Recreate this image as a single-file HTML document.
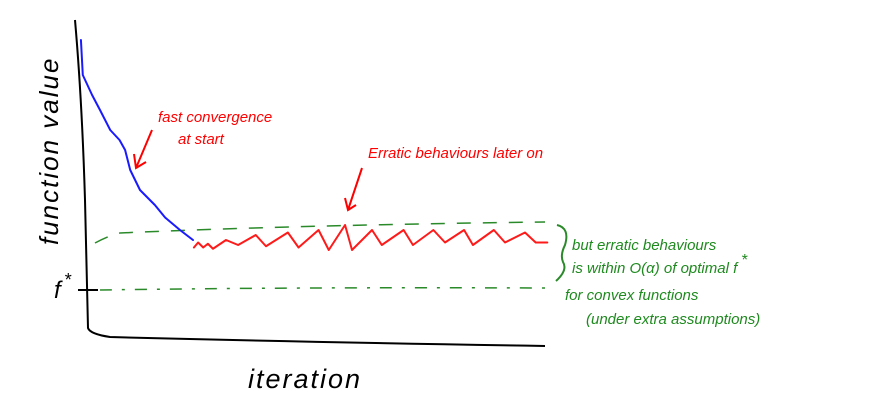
<!DOCTYPE html>
<html><head><meta charset="utf-8"><style>
html,body{margin:0;padding:0;background:#fff;}
svg{display:block;}
text{font-family:"Liberation Sans",sans-serif;font-style:italic;}
</style></head><body>
<svg id="chart" width="871" height="403" viewBox="0 0 871 403" xmlns="http://www.w3.org/2000/svg">
<path d="M75 20 Q82 100 85 200 Q87 290 88 328 Q90 334 110 337 Q300 342 545 346" fill="none" stroke="#000" stroke-width="2"/>
<path d="M78 290 H98" stroke="#000" stroke-width="2"/>
<text x="54" y="298" font-size="24">f</text>
<text x="64" y="286" font-size="18">*</text>
<text font-size="26" transform="translate(58 245) rotate(-90)" letter-spacing="2">function value</text>
<text x="248" y="388" font-size="27" letter-spacing="2">iteration</text>
<path d="M95 243 Q110 235 120 233 Q300 225 545 222" fill="none" stroke="#2a8a2a" stroke-width="1.5" stroke-dasharray="14 12"/>
<path d="M100 290 Q300 287 545 288" fill="none" stroke="#2a8a2a" stroke-width="1.5" stroke-dasharray="12 10 3 10"/>
<g id="series"></g>
<path d="M152 130 L136 168 M134 154 L136 168 L146 162" fill="none" stroke="red" stroke-width="2"/>
<text x="158" y="122" font-size="15" fill="red">fast convergence</text>
<text x="178" y="144" font-size="15" fill="red">at start</text>
<path d="M362 168 L348 210 M345 198 L348 210 L356 205" fill="none" stroke="red" stroke-width="2"/>
<text x="368" y="158" font-size="15" fill="red">Erratic behaviours later on</text>
<path d="M557 225 Q570 228 565 245 Q560 255 563 262 Q568 270 556 281" fill="none" stroke="#2a8a2a" stroke-width="2"/>
<g fill="#1f8a1f" font-size="15">
<text x="572" y="250">but erratic behaviours</text>
<text x="572" y="273">is within O(α) of optimal f</text>
<text x="741" y="265" font-size="16">*</text>
<text x="565" y="300">for convex functions</text>
<text x="586" y="324">(under extra assumptions)</text>
</g>
</svg>
<script>
// iteration 0..100 -> x 80..545 ; function value 0 (f*)..100 -> y 290..40
const blueIter = [0.2,0.6,2.6,4.3,6.5,8.5,9.7,10.8,12.9,16.1,18.3,21.5,24.3];
const blueVal  = [100,86,78,72,64,60,56,48,40,34,29,24,20];
const redIter  = [24.5,25.4,26.5,27.5,28.6,31.4,34,37.8,40,44.7,47,51.3,53.5,57,58.5,62.8,64.9,69.6,71.6,76,78.5,82.6,84.5,89,91.4,95.7,98,100.5];
const redVal   = [17,19,17,18.5,16.5,20,18,22,17.5,23,17,24,16,26,16,24,18,24,18,24,19,24,18,24,19,23,19,19];
const xs = i => 80 + i/100*465;
const ys = v => 290 - v/100*250;
const g = document.getElementById('series');
function line(iters, vals, color, name){
  const p = document.createElementNS('http://www.w3.org/2000/svg','polyline');
  p.setAttribute('points', iters.map((t,k)=>xs(t)+','+ys(vals[k])).join(' '));
  p.setAttribute('fill','none');p.setAttribute('stroke',color);
  p.setAttribute('stroke-width','2');p.setAttribute('stroke-linejoin','round');p.setAttribute('stroke-linecap','round');
  
  
  g.appendChild(p);
}
line(blueIter, blueVal, '#1a1aff', 'blue-fast-convergence-line');
line(redIter, redVal, '#ff1a1a', 'red-erratic-line');
</script>
</body></html>
